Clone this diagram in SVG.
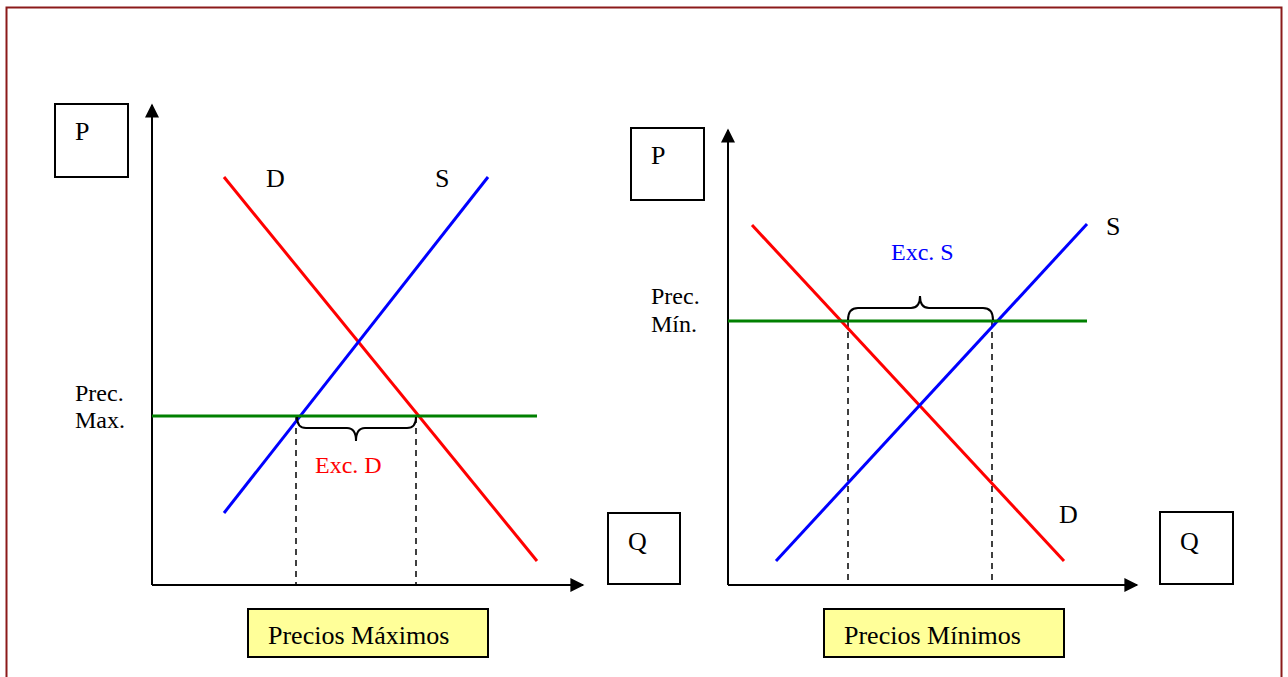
<svg xmlns="http://www.w3.org/2000/svg" width="1288" height="677" viewBox="0 0 1288 677">
<defs>
<marker id="arr" viewBox="0 0 10 10" refX="9" refY="5" markerWidth="16" markerHeight="14" markerUnits="userSpaceOnUse" orient="auto">
<path d="M0,0 L10,5 L0,10 Z" fill="#000"/>
</marker>
</defs>
<style>
text{font-family:"Liberation Serif","Times New Roman",serif;font-size:26px;fill:#000}
.sm{font-size:24px}
.box{fill:#fff;stroke:#000;stroke-width:2}
.lab{fill:#ffff99;stroke:#000;stroke-width:2}
.axis{stroke:#000;stroke-width:2;fill:none}
.d{stroke:#ff0000;stroke-width:3}
.s{stroke:#0000ff;stroke-width:3}
.g{stroke:#008000;stroke-width:3}
.dash{stroke:#000;stroke-width:1.5;stroke-dasharray:6,5}
.brace{fill:none;stroke:#000;stroke-width:2}
</style>
<rect x="0" y="0" width="1288" height="677" fill="#fff"/>
<rect x="6.5" y="7.5" width="1275" height="690" fill="none" stroke="#8b1a1a" stroke-width="2"/>

<g id="left-chart">
<g id="left-axes">
<line class="axis" x1="152" y1="585" x2="152" y2="105" marker-end="url(#arr)"/>
<line class="axis" x1="152" y1="585" x2="583" y2="585" marker-end="url(#arr)"/>
</g>
<g id="left-P"><rect class="box" x="55" y="104" width="73" height="73"/><text x="75" y="140">P</text></g>
<g id="left-Q"><rect class="box" x="608" y="513" width="72" height="71"/><text x="628" y="550">Q</text></g>
<g id="left-title"><rect class="lab" x="248" y="609" width="240" height="48"/><text x="268" y="644">Precios Máximos</text></g>
<g id="left-lines">
<line class="dash" x1="296" y1="417" x2="296" y2="585"/>
<line class="dash" x1="416" y1="417" x2="416" y2="585"/>
<line class="d" x1="224" y1="177" x2="537" y2="561"/>
<line class="s" x1="224" y1="513" x2="488" y2="177"/>
<line class="g" x1="152" y1="416" x2="537" y2="416"/>
<path class="brace" d="M297,417 Q297,428 306,428 L347,428 Q356,428 356,441 Q356,428 365,428 L407,428 Q416,428 416,417"/>
</g>
<text x="266" y="187">D</text>
<text x="435" y="187">S</text>
<text class="sm" x="315" y="473" style="fill:#ff0000">Exc. D</text>
<text class="sm" x="75" y="401">Prec.</text>
<text class="sm" x="75" y="428">Max.</text>
</g>

<g id="right-chart">
<g id="right-axes">
<line class="axis" x1="728" y1="585" x2="728" y2="130" marker-end="url(#arr)"/>
<line class="axis" x1="728" y1="585" x2="1137" y2="585" marker-end="url(#arr)"/>
</g>
<g id="right-P"><rect class="box" x="631" y="128" width="73" height="72"/><text x="651" y="164">P</text></g>
<g id="right-Q"><rect class="box" x="1160" y="512" width="73" height="72"/><text x="1180" y="550">Q</text></g>
<g id="right-title"><rect class="lab" x="824" y="609" width="240" height="48"/><text x="844" y="644">Precios Mínimos</text></g>
<g id="right-lines">
<line class="dash" x1="848" y1="321" x2="848" y2="585"/>
<line class="dash" x1="992" y1="321" x2="992" y2="585"/>
<line class="d" x1="752" y1="225" x2="1064" y2="561"/>
<line class="s" x1="776" y1="561" x2="1087" y2="224"/>
<line class="g" x1="728" y1="321" x2="1087" y2="321"/>
<path class="brace" d="M848,320 Q848,308 858,308 L911,308 Q920,308 920,296 Q920,308 929,308 L983,308 Q993,308 993,320"/>
</g>
<text x="1106" y="235">S</text>
<text x="1059" y="523">D</text>
<text class="sm" x="891" y="260" style="fill:#0000ff">Exc. S</text>
<text class="sm" x="651" y="304">Prec.</text>
<text class="sm" x="651" y="332">Mín.</text>
</g>
</svg>
